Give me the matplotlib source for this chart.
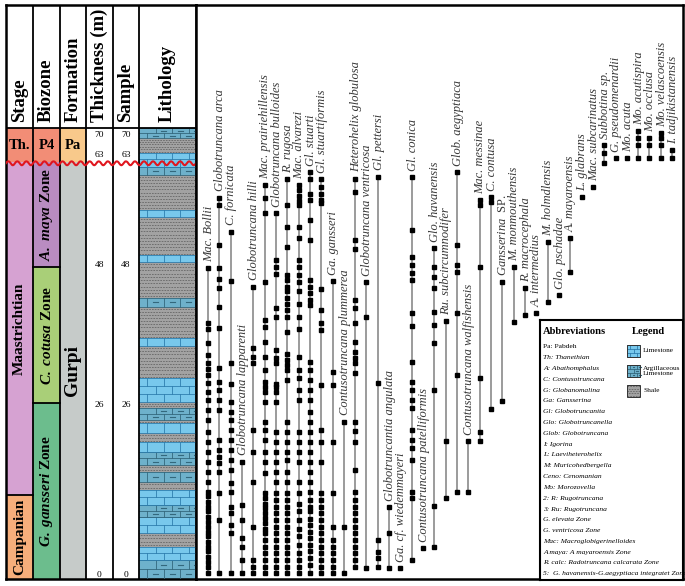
"""
Stratigraphic range chart of planktonic foraminifera, Gurpi / Pabdeh section.
Left strip: stage, biozone, formation, thickness, sample, lithology.
Right: occurrence ranges per species (levels in m), abbreviations box.
"""
import numpy as np
import matplotlib.pyplot as plt
from matplotlib.patches import Rectangle

plt.rcParams.update({
    "font.family": ["Liberation Serif", "DejaVu Serif"],
    "mathtext.fontset": "custom",
    "mathtext.rm": "Liberation Serif",
    "mathtext.it": "Liberation Serif:italic",
    "mathtext.bf": "Liberation Serif:bold",
    "mathtext.bfit": "Liberation Serif:italic:bold",
})

# ---------------------------------------------------------------- data
SPECIES = [
    "Mac. Bollii", "Globotruncana arca", "C. fornicata", "Globotruncana lapparenti",
    "Globotruncana hilli", "Mac. prairiehillensis", "Globotruncana bulloides",
    "R. rugosa", "Mac. alvarezi", "Gl. stuarti", "Gl. stuartiformis", "Ga. gansseri",
    "Contusotruncana plummerea", "Heterohelix globulosa", "Globotruncana ventricosa",
    "Gl. pettersi", "Globotruncantia angulata", "Ga. cf. wiedemmayeri", "Gl. conica",
    "Contusotruncana patelliformis", "Glo. havanensis", "Ru. subcircumnodifer",
    "Glob. aegyptiaca", "Contusotruncana walfishensis", "Mac. messinae", "C. contusa",
    r"Gansserina  $\mathrm{SP.}$", "M. monmouthensis", "R. macrocephala", "A. intermedius",
    "M. holmdlensis", "Glo. pschadae", "A. mayaroensis", "L. glabrans",
    "Mac. subcarinatus", "Subbotina sp.", "G. pseudomenardii", "Mo. acuta",
    "Mo. acutispira", "Mo. occlusa", "Mo. velascoensis", "I. tadjikistanensis",
]

# occurrence levels (m) of every species, same order as SPECIES
OCCURRENCES = [
    [46.8, 38.5, 37.6, 35.4, 33.6, 32.4, 31.5, 30.5, 29.3, 28.0, 26.7, 25.2, 23.6,
     21.9, 20.3, 18.8, 17.3, 15.8, 14.2, 12.7, 12.0, 11.2, 10.4, 9.7, 8.9, 8.1, 7.4,
     6.6, 5.9, 5.1, 4.3, 3.6, 2.8, 2.0, 1.3, 0.3],
    [57.6, 56.4, 50.3, 46.8, 45.1, 43.8, 40.9, 37.7, 31.6, 29.4, 28.2, 26.7, 25.2,
     20.6, 19.1, 18.0, 17.1, 15.7, 12.5, 8.4, 0.3],
    [52.4, 44.9, 32.3, 29.2, 26.4, 24.9, 23.6, 22.1, 20.6, 19.1, 17.5, 16.0, 14.0,
     12.7, 10.4, 9.4, 7.6, 6.4, 0.3],
    [17.3, 10.7, 8.4, 5.6, 4.3, 2.3, 0.3],
    [44.0, 34.6, 33.3, 32.3, 22.1, 18.8, 14.2, 7.4, 2.3, 1.3, 0.3],
    [59.5, 57.5, 55.2, 44.7, 38.9, 37.9, 35.6, 33.3, 31.3, 29.5, 28.7, 28.0, 26.4,
     23.4, 22.1, 20.6, 18.8, 17.3, 15.5, 12.5, 11.7, 10.9, 10.2, 9.4, 8.7, 7.9, 7.1,
     6.4, 5.3, 4.3, 3.3, 2.3, 1.3, 0.3],
    [55.2, 48.1, 47.0, 46.0, 40.7, 39.4, 34.3, 33.1, 32.3, 29.2, 28.7, 28.0, 26.4,
     21.9, 20.3, 18.8, 17.3, 15.8, 14.2, 12.5, 11.5, 10.4, 9.4, 8.4, 7.4, 6.4, 5.3,
     4.3, 3.3, 2.3, 1.3, 0.3],
    [60.4, 56.4, 53.1, 50.1, 45.8, 45.0, 44.0, 43.3, 42.3, 41.4, 40.4, 39.4, 37.1,
     33.8, 32.8, 32.0, 31.3, 29.8, 23.4, 21.9, 20.3, 18.8, 17.5, 15.8, 14.2, 12.5,
     11.5, 10.4, 9.4, 8.4, 7.4, 6.4, 5.3, 4.3, 3.3, 2.3, 1.3, 0.3],
    [59.5, 58.7, 57.9, 57.1, 56.4, 53.1, 51.4, 48.1, 47.0, 45.8, 44.7, 43.3, 41.4,
     39.4, 37.6, 33.3, 31.3, 30.0, 28.2, 26.7, 21.9, 20.3, 18.8, 17.3, 14.2, 12.5,
     10.9, 9.7, 8.4, 7.1, 5.9, 4.6, 3.3, 2.3, 1.3, 0.3],
    [61.5, 60.5, 58.2, 57.2, 54.1, 51.1, 45.0, 44.0, 43.0, 42.0, 41.2, 32.5, 31.3,
     29.8, 28.2, 26.7, 24.9, 23.4, 21.9, 20.3, 18.8, 17.3, 15.8, 14.2, 12.7, 11.5,
     10.4, 9.7, 8.6, 7.6, 6.6, 5.6, 4.6, 3.6, 2.6, 1.6, 0.3],
    [60.4, 59.2, 58.2, 57.2, 56.7, 43.7, 40.4, 38.4, 37.4, 29.0, 22.1, 20.3, 17.3,
     12.5, 11.5, 10.4, 9.4, 8.4, 7.4, 6.4, 5.3, 4.3, 3.3, 2.3, 1.3, 0.3],
    [44.9, 31.0, 29.0, 20.3, 12.5, 7.4, 5.3, 4.3, 3.3, 2.3, 1.3, 0.3],
    [23.4, 7.4, 0.3],
    [60.5, 58.5, 51.1, 49.8, 42.0, 40.7, 38.4, 35.6, 34.1, 33.1, 32.3, 30.8, 23.4,
     22.0, 20.3, 16.0, 12.7, 11.5, 10.4, 9.4, 8.4, 7.4, 6.4, 5.3, 4.3, 3.3, 2.3, 1.2],
    [44.7, 39.4, 1.1],
    [60.8, 29.3, 5.3, 3.5, 2.6, 1.2],
    [10.4, 6.4, 1.1],
    [1.1],
    [60.7, 52.6, 48.5, 47.3, 46.1, 45.0, 40.0, 38.0, 32.5, 29.4, 28.2, 26.7, 25.5,
     22.1, 20.6, 19.4, 17.5, 12.7, 11.7, 2.3],
    [4.1],
    [49.9, 47.0, 45.5, 43.8, 40.1, 38.1, 35.4, 28.2, 10.5, 4.3],
    [38.7, 20.4, 11.7],
    [61.5, 50.3, 47.3, 46.2, 40.0, 30.5, 12.7],
    [20.4, 12.7],
    [57.2, 56.4, 47.0, 30.0, 21.8, 20.4],
    [57.7, 56.9, 25.3],
    [44.7, 26.5],
    [47.0, 38.6],
    [43.8, 39.7],
    [40.0],
    [50.8, 41.6],
    [42.7],
    [51.4, 46.2],
    [57.7],
    [59.2],
    [66.7, 65.0, 62.8],
    [63.9],
    [63.9],
    [69.8, 68.3, 66.7, 63.9],
    [68.3, 66.7, 63.9],
    [69.3, 68.3, 66.7, 63.9],
    [65.6, 63.9],
]

STAGES = ["Campanian", "Maastrichtian", "Th."]
STAGE_TOPS = [12.2, 63.0, 70.4]
BIOZONES = ["G. gansseri Zone", "C. cotusa Zone", "A. maya Zone", "P4"]
BIOZONE_TOPS = [26.2, 47.0, 63.0, 70.4]
FORMATIONS = ["Gurpi", "Pa"]
FORMATION_TOPS = [63.0, 70.4]
LEVEL_TICKS = [0, 26, 48, 63, 70]

LITHO_TYPES = ["arg", "lime", "shale", "lime", "arg", "lime", "shale", "arg", "shale",
               "arg", "lime", "shale", "lime", "shale", "arg", "shale", "lime", "shale",
               "lime", "shale", "arg", "shale", "lime", "shale", "lime", "shale", "arg",
               "lime", "shale", "arg"]
LITHO_TOPS = [2.3, 4.3, 6.4, 8.8, 10.7, 13.0, 14.2, 15.7, 16.8, 18.8, 20.3, 21.6, 23.2,
              23.6, 25.5, 26.4, 30.0, 34.9, 36.1, 40.9, 42.3, 47.7, 48.8, 54.6, 55.7,
              61.0, 62.2, 65.0, 68.2, 70.4]

ABBREVIATIONS = [
    "Pa: Pabdeh", "Th: Thanethian", "A: Abathomphalus", "C: Contusotruncana",
    "G: Globanomalina", "Ga: Gansserina", "Gl: Globotruncanita",
    "Glo: Globotruncanella", "Glob: Globotruncana", "I: Igorina",
    "L: Laeviheterohelix", "M: Muricohedbergella", "Ceno: Cenomanian",
    "Mo: Morozovella", "2: R: Rugotruncana", "3: Ru: Rugotruncana",
    "G. elevata Zone", "G. ventricosa Zone", "Mac: Macroglobigerinelloides",
    "A maya: A mayaroensis Zone", "R. calc: Radotruncana calcarata Zone",
    "5:  G. havanensis-G.aegyptiaca integratet Zone",
]

BASE = -0.6          # bottom of the section frame
K_PG = 63.0          # unconformity (wavy line)
Y_TOP = 97.4         # level reached by the top of the frame

COLORS = {
    "Th.": "#f28d76", "P4": "#f28d76", "Pa": "#f8c98b",
    "Maastrichtian": "#d6a2d2", "Campanian": "#f6ae7b",
    "A. maya Zone": "#b98cc1", "C. cotusa Zone": "#a9cf78",
    "G. gansseri Zone": "#6cbd8d", "Gurpi": "#c6cbc9",
}
LITHO = {
    "lime": ("#78c8ec", "#2e7eae"),
    "arg": ("#6eb1cb", "#33687d"),
    "shale": ("#a2a2a2", "#5a5a5a"),
}

# above the unconformity the section is drawn compressed
R_UP = 0.697


def fwd(v):
    v = np.asarray(v, dtype=float)
    return np.where(v <= K_PG, v, K_PG + (v - K_PG) * R_UP)


def inv(v):
    v = np.asarray(v, dtype=float)
    return np.where(v <= K_PG, v, K_PG + (v - K_PG) / R_UP)


def litho_fill(ax, x0, x1, y0, y1, kind, row_h, brick_w, dash_h):
    face, line = LITHO[kind]
    ax.add_patch(Rectangle((x0, y0), x1 - x0, y1 - y0, facecolor=face,
                           edgecolor="none", zorder=2))
    if kind == "shale":
        n = max(1, int(round(abs(y1 - y0) / dash_h)))
        for k in range(n):
            yy = y0 + (k + 0.5) * (y1 - y0) / n
            ax.plot([x0, x1], [yy, yy], color=line, lw=0.5,
                    ls=((k % 2) * 2.0, (2.4, 1.6)), zorder=3)
        return
    n = max(1, int(round(abs(y1 - y0) / row_h)))
    edges = np.linspace(y0, y1, n + 1)
    for yy in edges:
        ax.plot([x0, x1], [yy, yy], color=line, lw=0.6, zorder=3)
    for k in range(n):
        off = (k % 2) * brick_w / 2
        for xx in np.arange(x0 + off + brick_w / 2, x1, brick_w):
            ax.plot([xx, xx], [edges[k], edges[k + 1]], color=line, lw=0.6, zorder=3)
        if kind == "arg":
            ym = (edges[k] + edges[k + 1]) / 2
            for xx in np.arange(x0 + off + brick_w * 0.85, x1, brick_w):
                ax.plot([xx, xx + brick_w * 0.3], [ym, ym], color=line, lw=0.8, zorder=3)


def boxed_column(ax, x0, x1, names, tops, size):
    base = BASE
    for name, top in zip(names, tops):
        ax.add_patch(Rectangle((x0, base), x1 - x0, top - base,
                               facecolor=COLORS[name], edgecolor="none", zorder=1))
        if base != BASE and base != K_PG:
            ax.plot([x0, x1], [base, base], color="black", lw=1.3, zorder=4)
        if name.endswith("Zone"):
            part = name[:-5].replace(" ", r"\ ")
            label = r"$\mathbfit{" + part + "}$ Zone"
        else:
            label = name
        xc = (x0 + x1) / 2
        yc = float(inv((fwd(base) + fwd(top)) / 2))
        if top > K_PG:
            ax.text(xc, yc, label, ha="center", va="center", fontsize=10.5,
                    fontweight="bold", zorder=5)
        else:
            ax.text(xc, yc, label, ha="center", va="center", rotation=90,
                    rotation_mode="anchor", fontsize=size, fontweight="bold", zorder=5)
        base = top


W, H = 685, 586


def frame(x0, y0, x1, y1):
    return [x0 / W, 1 - y1 / H, (x1 - x0) / W, (y1 - y0) / H]


fig = plt.figure(figsize=(6.85, 5.86), dpi=100)
axL = fig.add_axes(frame(6, 5, 196, 579))
axR = fig.add_axes(frame(196, 5, 683, 579))
for ax in (axL, axR):
    ax.set_yscale("function", functions=(fwd, inv))
    ax.set_ylim(BASE, Y_TOP)
    ax.set_xticks([])
    ax.set_yticks([])
    ax.set_yticks([], minor=True)
    for s in ax.spines.values():
        s.set_linewidth(1.8)

# ---------------------------------------------------------- left strip
COL_EDGES = [0, 1.015, 2.03, 3.0, 4.02, 5.0, 7.14]
axL.set_xlim(0, 7.14)
LTOP = STAGE_TOPS[-1]

boxed_column(axL, COL_EDGES[0], COL_EDGES[1], STAGES, STAGE_TOPS, 11)
boxed_column(axL, COL_EDGES[1], COL_EDGES[2], BIOZONES, BIOZONE_TOPS, 11)
boxed_column(axL, COL_EDGES[2], COL_EDGES[3], FORMATIONS, FORMATION_TOPS, 14)

base = BASE
for kind, top in zip(LITHO_TYPES, LITHO_TOPS):
    litho_fill(axL, COL_EDGES[5], COL_EDGES[6], base, top, kind,
               row_h=1.2, brick_w=0.62, dash_h=0.5)
    base = top

axL.vlines(COL_EDGES[1:-1], BASE, Y_TOP, color="black", lw=1.3, zorder=6)
axL.hlines(LTOP, 0, COL_EDGES[-1], color="black", lw=1.3, zorder=6)

# unconformity symbol
wx = np.linspace(0, COL_EDGES[-1], 600)
axL.plot(wx, K_PG - 0.15 + 0.32 * np.sin(2 * np.pi * wx / 0.34), color="#e0161e",
         lw=1.5, zorder=7)

HEADERS = ["Stage", "Biozone", "Formation", "Thickness (m)", "Sample", "Lithology"]
for k, h in enumerate(HEADERS):
    xc = (COL_EDGES[k] + COL_EDGES[k + 1]) / 2
    axL.annotate(h, (xc, LTOP), xytext=(0, 4.5), textcoords="offset points",
                 rotation=90, rotation_mode="anchor", ha="left", va="center",
                 fontsize=13.5, fontweight="bold", zorder=8)

TICK_NUDGE = {0: 0, 26: 0, 48: -3.5, 63: 5.5, 70: -3.5}
for v in LEVEL_TICKS:
    for k in (3, 4):
        xc = (COL_EDGES[k] + COL_EDGES[k + 1]) / 2
        axL.annotate(str(v), (xc, v), xytext=(0, TICK_NUDGE[v]), textcoords="offset points",
                     ha="center", va="center", fontsize=6.8, zorder=8)

# ---------------------------------------------------------- range chart
axR.set_xlim(-1.06, 41.96)
for i, (name, occ) in enumerate(zip(SPECIES, OCCURRENCES)):
    axR.plot([i, i], [min(occ), max(occ)], color="#808080", lw=1.1, zorder=2)
    axR.plot([i] * len(occ), occ, ls="none", marker="s", ms=3.3, color="black",
             mec="black", zorder=3)
    axR.annotate(name, (i, max(occ)), xytext=(0.6, 4.5), textcoords="offset points",
                 rotation=90, rotation_mode="anchor", ha="left", va="center",
                 fontsize=9.0, style="italic", color="#383838", zorder=4)

# ------------------------------------------------------ abbreviations box
axB = fig.add_axes(frame(540, 320, 683, 580))
axB.set_xlim(0, 143)
axB.set_ylim(260, 0)
axB.set_xticks([])
axB.set_yticks([])
for s in axB.spines.values():
    s.set_linewidth(1.5)

axB.text(3, 11, "Abbreviations", fontsize=7.6, fontweight="bold", va="center")
axB.text(108, 11, "Legend", fontsize=7.6, fontweight="bold", va="center", ha="center")
for k, line in enumerate(ABBREVIATIONS):
    axB.text(3, 27 + k * 10.8, line, fontsize=5.4, va="center",
             style="normal" if k == 0 else "italic")

LEGEND_ITEMS = [("lime", "Limestone"), ("arg", "Argillaceous\nLimestone"), ("shale", "Shale")]
for k, (kind, text) in enumerate(LEGEND_ITEMS):
    y0 = 25 + k * 20
    litho_fill(axB, 87, 100, y0, y0 + 12, kind, row_h=4, brick_w=6.5, dash_h=2.4)
    axB.add_patch(Rectangle((87, y0), 13, 12, facecolor="none", edgecolor="#333",
                            lw=0.7, zorder=4))
    axB.text(103, y0 + 6, text, fontsize=5.2, va="center", linespacing=1.0)

fig.savefig("out.png", dpi=100)
